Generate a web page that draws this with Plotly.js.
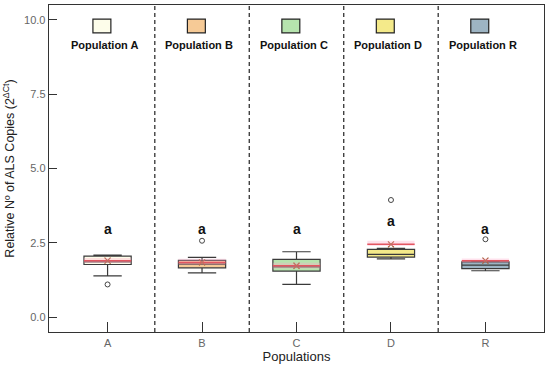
<!DOCTYPE html>
<html>
<head>
<meta charset="utf-8">
<script src="https://cdn.plot.ly/plotly-3.0.1.min.js"></script>
<style>html,body{margin:0;padding:0;background:#fff;}#chart{width:550px;height:366px;}</style>
</head>
<body>
<div id="chart"></div>
<script>
// Data
const categories = ["A", "B", "C", "D", "R"];
const legendNames = ["Population A", "Population B", "Population C", "Population D", "Population R"];
const fillColors = ["#fdfdea", "#f6ca96", "#b6e4ae", "#f4ea8a", "#9db4c3"];
const lowerWhisker = [1.39, 1.49, 1.10, 1.96, 1.56];
const q1Values = [1.77, 1.66, 1.55, 2.02, 1.63];
const medianValues = [1.86, 1.78, 1.69, 2.11, 1.75];
const q3Values = [2.05, 1.91, 1.94, 2.28, 1.86];
const upperWhisker = [2.09, 2.01, 2.20, 2.31, 1.88];
const meanValues = [1.90, 1.84, 1.73, 2.45, 1.90];
const meanCILow = [1.82, 1.76, 1.64, 2.39, 1.84];
const meanCIHigh = [1.99, 1.96, 1.83, 2.57, 1.97];
const outlierValues = [[1.10], [2.57], [], [3.94], [2.62]];
const letterLabels = ["a", "a", "a", "a", "a"];
const letterY = [2.95, 2.95, 2.95, 3.23, 2.95];
const yTickVals = [0, 2.5, 5, 7.5, 10];

const idx = categories.map((_, i) => i);
const boxW = 0.5;
const traces = [];
const shapes = [];
const annotations = [];
const fontFam = "Liberation Sans, Arial, sans-serif";

idx.forEach(i => {
  shapes.push({type: "rect", xref: "x", yref: "y", layer: "above",
    x0: i - boxW / 2, x1: i + boxW / 2, y0: meanCILow[i], y1: meanCIHigh[i],
    fillcolor: "rgba(255,170,200,0.35)", line: {width: 0}});
  traces.push({
    type: "box", x: [i], name: categories[i],
    q1: [q1Values[i]], median: [medianValues[i]], q3: [q3Values[i]],
    lowerfence: [lowerWhisker[i]], upperfence: [upperWhisker[i]],
    width: boxW, whiskerwidth: 0.6,
    fillcolor: fillColors[i], line: {color: "#3a3a3a", width: 1.2},
    boxpoints: false, showlegend: false, hoverinfo: "skip"
  });
  traces.push({
    type: "scatter", mode: "lines", x: [i - boxW / 2, i + boxW / 2],
    y: [meanValues[i], meanValues[i]],
    line: {color: "#d42a2a", width: 1.5}, showlegend: false, hoverinfo: "skip"
  });
  if (outlierValues[i].length) {
    traces.push({
      type: "scatter", mode: "markers", x: outlierValues[i].map(() => i), y: outlierValues[i],
      marker: {symbol: "circle-open", size: 5, color: "#444", line: {width: 1}},
      showlegend: false, hoverinfo: "skip"
    });
  }
  annotations.push({x: i, y: letterY[i], xref: "x", yref: "y", text: "<b>" + letterLabels[i] + "</b>",
    showarrow: false, font: {family: fontFam, size: 14, color: "#111"}});
  shapes.push({type: "rect", xref: "x", yref: "paper",
    x0: i - 0.155, x1: i + 0.035, y0: 0.915, y1: 0.957,
    fillcolor: fillColors[i], line: {color: "#222", width: 1.2}});
  annotations.push({x: i - 0.03, y: 0.878, xref: "x", yref: "paper", yanchor: "middle",
    text: "<b>" + legendNames[i] + "</b>",
    showarrow: false, font: {family: fontFam, size: 11, color: "#111"}});
});

traces.push({
  type: "scatter", mode: "markers", x: idx, y: meanValues,
  marker: {symbol: "x-thin-open", size: 6, color: "#a0502a", line: {width: 1.2, color: "#a0502a"}},
  showlegend: false, hoverinfo: "skip"
});

idx.slice(0, -1).forEach(i => {
  shapes.push({type: "line", xref: "x", yref: "paper", x0: i + 0.5, x1: i + 0.5, y0: 0, y1: 1,
    line: {color: "#333", width: 1.3, dash: "4px,3px"}, layer: "below"});
});

const layout = {
  width: 550, height: 366,
  margin: {l: 49, r: 6, t: 5, b: 34},
  paper_bgcolor: "#fff", plot_bgcolor: "#fff",
  font: {family: fontFam},
  showlegend: false,
  xaxis: {
    range: [-0.62, 4.62], tickvals: idx, ticktext: categories,
    ticks: "inside", ticklen: 10, tickcolor: "#333", tickwidth: 1,
    showline: true, linecolor: "#333", linewidth: 1.3, mirror: true,
    showgrid: false, zeroline: false,
    tickfont: {size: 11, color: "#666"},
    title: {text: "Populations", font: {size: 13, color: "#222"}, standoff: 4}
  },
  yaxis: {
    range: [-0.5, 10.5], tickvals: yTickVals, tickformat: ".1f",
    ticks: "inside", ticklen: 8, tickcolor: "#333", tickwidth: 1,
    showline: true, linecolor: "#333", linewidth: 1.3, mirror: true,
    showgrid: false, zeroline: false,
    tickfont: {size: 11, color: "#666"},
    title: {text: "Relative Nº of ALS Copies (2<sup>ΔCt</sup>)", font: {size: 12.5, color: "#222"}, standoff: 6}
  },
  shapes: shapes,
  annotations: annotations
};

Plotly.newPlot("chart", traces, layout, {displayModeBar: false, staticPlot: true});
</script>
</body>
</html>
